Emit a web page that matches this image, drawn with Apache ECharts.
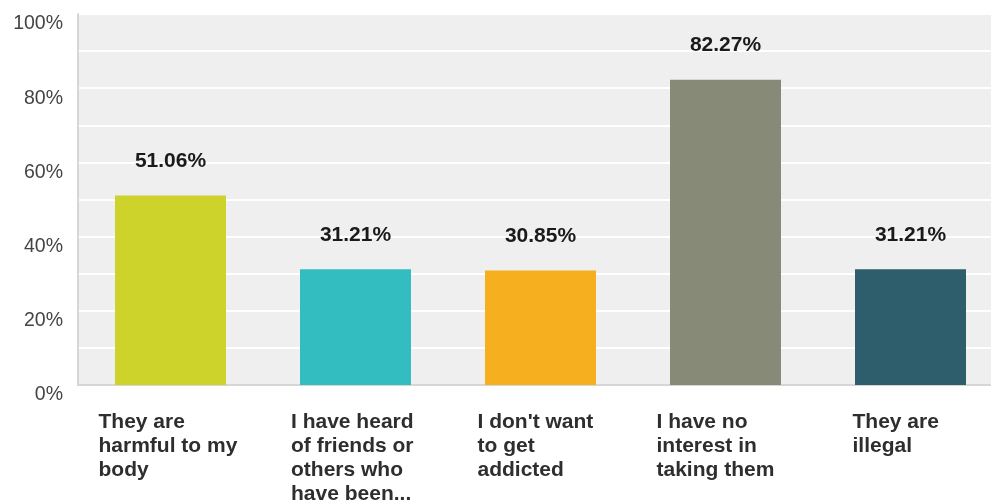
<!DOCTYPE html>
<html>
<head>
<meta charset="utf-8">
<script src="https://cdn.jsdelivr.net/npm/echarts@6/dist/echarts.min.js"></script>
<style>
  html, body { margin: 0; padding: 0; background: #ffffff; }
  #chart { width: 991px; height: 500px; }
</style>
</head>
<body>
<div id="chart"></div>
<script>
// Reasons given for not taking drugs (share of respondents)
const categories = [
  'They are\nharmful to my\nbody',
  'I have heard\nof friends or\nothers who\nhave been...',
  "I don't want\nto get\naddicted",
  'I have no\ninterest in\ntaking them',
  'They are\nillegal'
];
const percentages = [51.06, 31.21, 30.85, 82.27, 31.21];
const barColors = ['#cdd32a', '#33bdc1', '#f5af1f', '#888a78', '#2e5e6b'];
const yTicks = [0, 20, 40, 60, 80, 100];

// width of the box each category label is centred in (text is left-aligned inside)
const labelBoxWidths = [144, 129, 126, 138, 116];

const labelRich = {};
labelBoxWidths.forEach(function (w, i) {
  labelRich['c' + i] = {
    width: w,
    align: 'left',
    fontFamily: 'Liberation Sans, Arial, sans-serif',
    fontWeight: 'bold',
    fontSize: 21,
    lineHeight: 24,
    color: '#2e2e2e'
  };
});

const chart = echarts.init(document.getElementById('chart'), null, { renderer: 'canvas' });

chart.setOption({
  animation: false,
  grid: {
    left: 78,
    top: 14,
    width: 925,
    bottom: 115,
    containLabel: false,
    outerBoundsMode: 'none',
    show: true,
    backgroundColor: '#efefef',
    borderWidth: 0
  },
  xAxis: {
    type: 'category',
    data: categories,
    axisLine: { show: true, lineStyle: { color: '#d6d6d6', width: 2 } },
    axisTick: { show: false },
    splitLine: { show: false },
    axisLabel: {
      interval: 0,
      margin: 25,
      align: 'center',
      overflow: 'none',
      hideOverlap: false,
      formatter: function (v, idx) {
        return v.split('\n').map(function (s) { return '{c' + idx + '|' + s + '}'; }).join('\n');
      },
      rich: labelRich
    }
  },
  yAxis: {
    type: 'value',
    min: 0,
    max: 100,
    interval: 10,
    axisLine: { show: true, lineStyle: { color: '#d6d6d6', width: 2 } },
    axisTick: { show: false },
    splitLine: { show: true, lineStyle: { color: '#ffffff', width: 2 } },
    axisLabel: {
      margin: 15,
      fontFamily: 'Liberation Sans, Arial, sans-serif',
      fontSize: 19.5,
      color: '#444444',
      verticalAlign: 'top',
      formatter: function (v) {
        return yTicks.indexOf(v) >= 0 ? v + '%' : '';
      }
    }
  },
  series: [{
    type: 'bar',
    barWidth: '60%',
    data: percentages.map(function (v, i) {
      return { value: v, itemStyle: { color: barColors[i] } };
    }),
    label: {
      show: true,
      position: 'top',
      distance: 24,
      fontFamily: 'Liberation Sans, Arial, sans-serif',
      fontWeight: 'bold',
      fontSize: 21,
      color: '#1a1a1a',
      formatter: function (p) { return p.value.toFixed(2) + '%'; }
    }
  }]
});
</script>
</body>
</html>
